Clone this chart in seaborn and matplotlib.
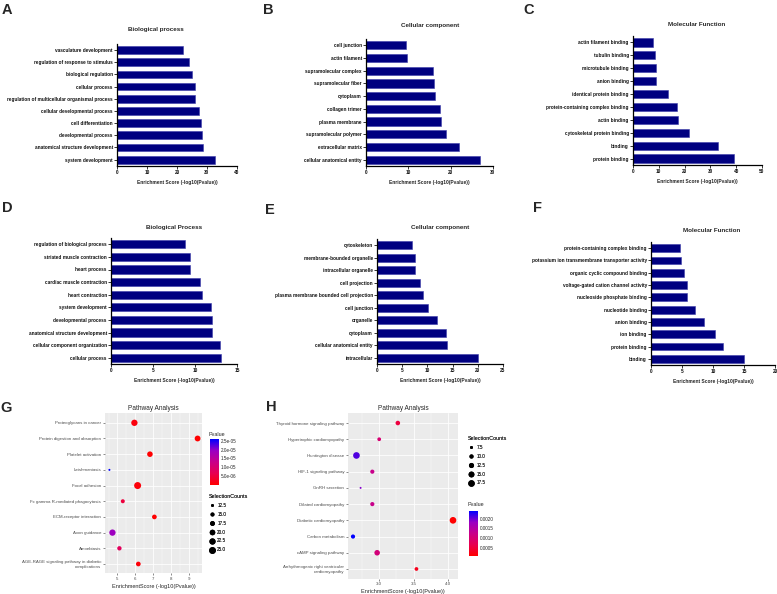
import numpy as np
import pandas as pd
import matplotlib
matplotlib.use("Agg")
import matplotlib.pyplot as plt
import seaborn as sns
from matplotlib.colors import LinearSegmentedColormap, Normalize
from matplotlib.cm import ScalarMappable
from matplotlib.lines import Line2D

# ---- data ----
a_terms = ["vasculature development", "regulation of response to stimulus", "biological regulation",
           "cellular process", "regulation of multicellular organismal process",
           "cellular developmental process", "cell differentiation", "developmental process",
           "anatomical structure development", "system development"]
a_scores = [22.1, 23.9, 25.0, 25.9, 26.0, 27.2, 27.9, 28.3, 28.8, 32.7]

b_terms = ["cell junction", "actin filament", "supramolecular complex", "supramolecular fiber",
           "cytoplasm", "collagen trimer", "plasma membrane", "supramolecular polymer",
           "extracellular matrix", "cellular anatomical entity"]
b_scores = [9.55, 9.6, 15.9, 16.0, 16.2, 17.5, 17.7, 18.9, 22.0, 26.9]

c_terms = ["actin filament binding", "tubulin binding", "microtubule binding", "anion binding",
           "identical protein binding", "protein-containing complex binding", "actin binding",
           "cytoskeletal protein binding", "binding", "protein binding"]
c_scores = [7.75, 8.5, 8.8, 9.0, 13.7, 17.2, 17.6, 21.8, 32.9, 39.3]

d_terms = ["regulation of biological process", "striated muscle contraction", "heart process",
           "cardiac muscle contraction", "heart contraction", "system development",
           "developmental process", "anatomical structure development",
           "cellular component organization", "cellular process"]
d_scores = [8.8, 9.4, 9.45, 10.6, 10.85, 11.85, 12.05, 12.05, 12.95, 13.15]

e_terms = ["cytoskeleton", "membrane-bounded organelle", "intracellular organelle", "cell projection",
           "plasma membrane bounded cell projection", "cell junction", "organelle", "cytoplasm",
           "cellular anatomical entity", "intracellular"]
e_scores = [6.96, 7.5, 7.55, 8.55, 9.15, 10.1, 11.9, 13.6, 13.85, 20.1]

f_terms = ["protein-containing complex binding", "potassium ion transmembrane transporter activity",
           "organic cyclic compound binding", "voltage-gated cation channel activity",
           "nucleoside phosphate binding", "nucleotide binding", "anion binding", "ion binding",
           "protein binding", "binding"]
f_scores = [4.7, 4.77, 5.36, 5.8, 5.8, 7.13, 8.6, 10.3, 11.6, 15.0]

g_terms = ["Proteoglycans in cancer", "Protein digestion and absorption", "Platelet activation",
           "Leishmaniasis", "Focal adhesion", "Fc gamma R-mediated phagocytosis",
           "ECM-receptor interaction", "Axon guidance", "Amoebiasis",
           "AGE-RAGE signaling pathway in diabetic\ncomplications"]
g_scores = [5.95, 9.49, 6.82, 4.55, 6.13, 5.30, 7.07, 4.72, 5.11, 6.17]
g_pvals = [1.1e-6, 3.5e-10, 1.5e-7, 2.6e-5, 7.4e-7, 5.0e-6, 8.5e-8, 1.9e-5, 7.8e-6, 6.8e-7]
g_counts = [23, 21, 20, 11, 26, 15, 17, 23, 16, 17]
g_size_breaks = [12.5, 15.0, 17.5, 20.0, 22.5, 25.0]
g_p_breaks = [5e-6, 1e-5, 1.5e-5, 2e-5, 2.5e-5]

h_terms = ["Thyroid hormone signaling pathway", "Hypertrophic cardiomyopathy", "Huntington disease",
           "HIF-1 signaling pathway", "GnRH secretion", "Dilated cardiomyopathy",
           "Diabetic cardiomyopathy", "Carbon metabolism", "cAMP signaling pathway",
           "Arrhythmogenic right ventricular\ncardiomyopathy"]
h_scores = [3.27, 3.00, 2.67, 2.90, 2.73, 2.90, 4.07, 2.62, 2.97, 3.54]
h_pvals = [5.4e-4, 1.0e-3, 2.1e-3, 1.26e-3, 1.9e-3, 1.26e-3, 8.5e-5, 2.4e-3, 1.07e-3, 2.9e-4]
h_counts = [11, 9, 18, 10, 6, 10, 18, 10, 14, 9]
h_size_breaks = [7.5, 10.0, 12.5, 15.0, 17.5]
h_p_breaks = [0.0005, 0.0010, 0.0015, 0.0020]

# ---- style ----
sns.set_theme(style="ticks")
plt.rcParams["font.family"] = ["Liberation Sans", "DejaVu Sans"]

W, H = 777, 594
fig = plt.figure(figsize=(W / 100, H / 100), dpi=100)


def box(l, t, r, b):
    return [l / W, 1 - b / H, (r - l) / W, (b - t) / H]


def ftext(x, y, s, ha="center", **kw):
    fig.text(x / W, 1 - y / H, s, ha=ha, va="center", **kw)


def bar_panel(pos, terms, scores, xmax, step, title, title_xy, letter, letter_xy):
    ax = fig.add_axes(box(*pos))
    df = pd.DataFrame({"term": terms, "score": scores})
    sns.barplot(data=df, x="score", y="term", orient="h", color="#000080", saturation=1,
                width=0.64, edgecolor="#3c3ca8", linewidth=0.4, ax=ax)
    ax.set_xlim(0, xmax)
    ax.set_xticks(np.arange(0, xmax + 1, step))
    ax.set_ylabel("")
    ax.set_xlabel("Enrichment Score (-log10(Pvalue))", fontsize=3.5, fontweight="bold", labelpad=3.5)
    sns.despine(ax=ax)
    for sp in ["left", "bottom"]:
        ax.spines[sp].set_linewidth(0.9)
        ax.spines[sp].set_color("black")
    ax.tick_params(labelsize=3.45, length=2, width=0.6, pad=1, colors="#111111")
    for lbl in ax.get_yticklabels() + ax.get_xticklabels():
        lbl.set_fontweight("bold")
    ftext(*title_xy, title, fontsize=4.5, fontweight="bold")
    ftext(*letter_xy, letter, fontsize=10.5, fontweight="bold")
    return ax


bar_panel((117, 44, 237, 165.7), a_terms, a_scores, 40, 10, "Biological process", (155.7, 29), "A", (7, 10))
bar_panel((366, 39, 493, 166), b_terms, b_scores, 30, 10, "Cellular component", (430, 25), "B", (268, 10))
bar_panel((633, 36, 762, 165), c_terms, c_scores, 50, 10, "Molecular Function", (697, 24), "C", (529, 10))
bar_panel((111, 238, 237, 364), d_terms, d_scores, 15, 5, "Biological Process", (174, 227), "D", (7, 208))
bar_panel((377, 239, 503, 364), e_terms, e_scores, 25, 5, "Cellular component", (440, 227), "E", (270, 210))
bar_panel((651, 242, 775, 365), f_terms, f_scores, 20, 5, "Molecular Function", (712, 231), "F", (537, 208))

# ggplot-like red -> blue gradient
cmap = LinearSegmentedColormap.from_list("rb", ["#FF0000", "#E80050", "#C90089", "#9A00C3", "#0000FF"])


def size_of(c, cmin, cmax, smin, smax):
    return smin + (c - cmin) / (cmax - cmin) * (smax - smin)


def dot_panel(pos, terms, scores, pvals, counts, major, minor, fmt_x, srange,
              size_breaks, p_breaks, p_fmt, size_leg_xy, cbar_pos, p_title_xy, letter, letter_xy):
    ax = fig.add_axes(box(*pos))
    ax.set_facecolor("#EBEBEB")
    df = pd.DataFrame({"term": terms, "score": scores, "p": pvals, "count": counts})
    pnorm = Normalize(min(pvals), max(pvals))
    cmin, cmax = min(counts), max(counts)
    sns.scatterplot(data=df, x="score", y="term", hue="p", size="count", palette=cmap,
                    hue_norm=pnorm, sizes=srange, size_norm=(cmin, cmax), linewidth=0,
                    legend=False, ax=ax, zorder=3)
    lo, hi = min(scores), max(scores)
    pad = 0.05 * (hi - lo)
    ax.set_xlim(lo - pad, hi + pad)
    ax.set_ylim(len(terms) - 0.4, -0.6)
    ax.set_xticks(major)
    ax.set_xticklabels([fmt_x.format(v) for v in major])
    ax.set_xticks(minor, minor=True)
    ax.grid(True, which="major", color="white", linewidth=0.55)
    ax.grid(True, which="minor", axis="x", color="white", linewidth=0.28)
    ax.set_axisbelow(True)
    for sp in ax.spines.values():
        sp.set_visible(False)
    ax.tick_params(axis="both", which="major", labelsize=3.15, labelcolor="#4D4D4D",
                   length=1.5, width=0.4, color="#333333", pad=1.2)
    ax.tick_params(axis="x", which="minor", length=0)
    ax.set_ylabel("")
    ax.set_xlabel("EnrichmentScore (-log10(Pvalue))", fontsize=4.0, labelpad=2)
    ax.set_title("Pathway Analysis", fontsize=4.7, pad=2.5)

    # size legend
    handles = [Line2D([], [], linestyle="", marker="o", color="black", markeredgewidth=0,
                      markersize=np.sqrt(size_of(b, cmin, cmax, *srange))) for b in size_breaks]
    leg = ax.legend(handles, [f"{b:.1f}" for b in size_breaks], title="SelectionCounts",
                    loc="upper left", bbox_to_anchor=(size_leg_xy[0] / W, 1 - size_leg_xy[1] / H),
                    bbox_transform=fig.transFigure, frameon=False, fontsize=3.3,
                    title_fontsize=3.9, labelspacing=0.85, handletextpad=0.6,
                    handlelength=1.2, borderaxespad=0, borderpad=0, alignment="left")
    ax.add_artist(leg)

    # color bar legend
    cax = fig.add_axes(box(*cbar_pos))
    cb = fig.colorbar(ScalarMappable(norm=pnorm, cmap=cmap), cax=cax, ticks=p_breaks)
    cb.outline.set_visible(False)
    cb.ax.set_yticklabels([p_fmt.format(v) for v in p_breaks])
    cb.ax.tick_params(labelsize=3.3, length=1.5, width=0.4, color="white", direction="in", pad=1.5)
    ftext(*p_title_xy, "Pvalue", ha="left", fontsize=3.9)
    ftext(*letter_xy, letter, fontsize=10.5, fontweight="bold")
    return ax


dot_panel((105, 413.4, 202, 573.4), g_terms, g_scores, g_pvals, g_counts,
          [5, 6, 7, 8, 9], [4.5, 5.5, 6.5, 7.5, 8.5, 9.5], "{:.0f}", (2.1, 25.4),
          g_size_breaks, g_p_breaks, "{:.1e}", (209, 494), (210, 439, 219, 485), (209, 434),
          "G", (6, 408))

dot_panel((348, 413.3, 458, 578.7), h_terms, h_scores, h_pvals, h_counts,
          [3.0, 3.5, 4.0], [2.75, 3.25, 3.75], "{:.1f}", (2.0, 23.0),
          h_size_breaks, h_p_breaks, "{:.4f}", (468, 436), (469, 511, 478, 556), (468, 505),
          "H", (271, 407))

fig.savefig("out.png", dpi=100)
